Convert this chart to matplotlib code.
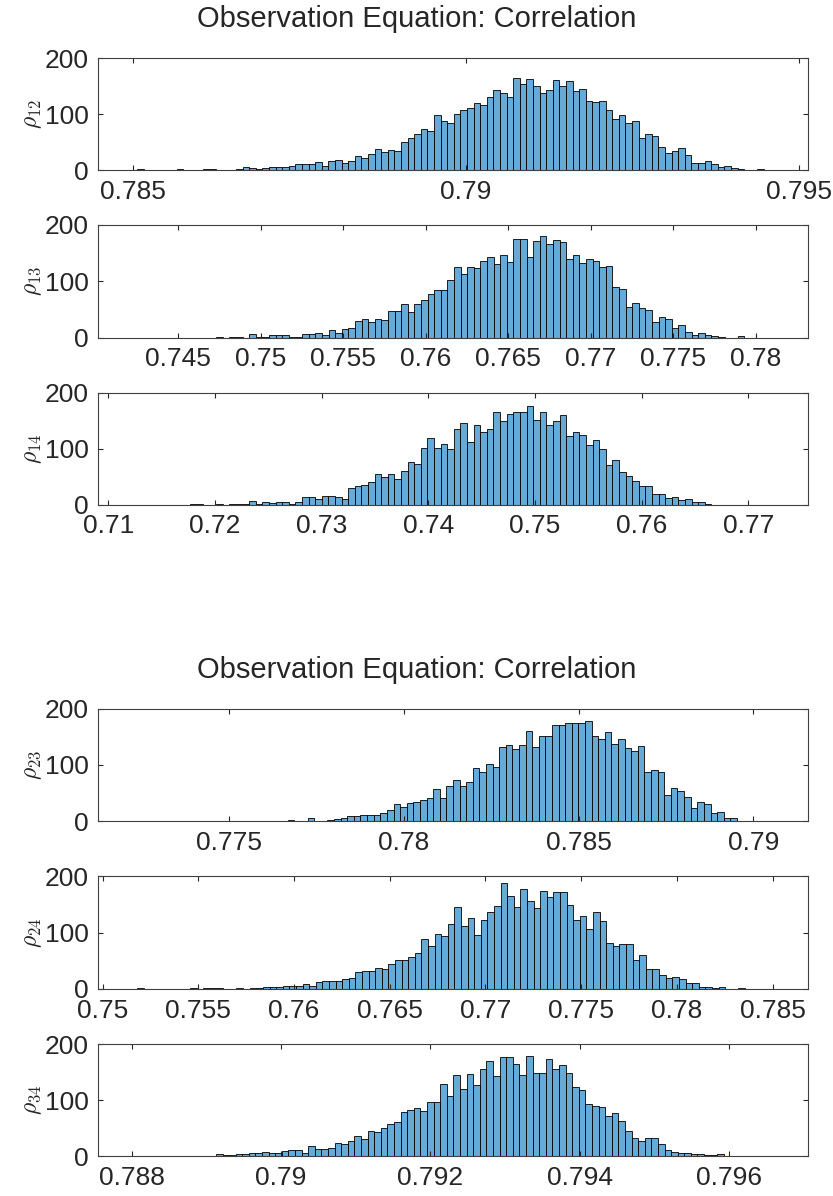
import numpy as np
import matplotlib
matplotlib.use("Agg")
import matplotlib.pyplot as plt

# bin counts (one value per bar, left to right)
rho12 = [1, 0, 0, 0, 0, 0, 1, 0, 0, 0, 1, 1, 0, 0, 0,
         1, 5, 3, 1, 3, 5, 5, 6, 8, 11, 11, 10, 15, 8, 16, 18, 13, 17, 25, 21, 29, 37, 32, 35, 34,
         50, 58, 64, 73, 70, 98, 88,
         85, 100, 108, 111, 120, 116, 131, 143, 137, 130, 165, 154, 163, 150, 138, 143, 161, 150,
         159, 141, 145, 123, 122, 123, 107, 92, 98, 84, 88, 58, 64, 61, 41, 31, 34, 40, 26, 12, 13,
         16, 10, 5, 7, 4, 1, 0, 0, 2]
rho13 = [1, 0, 2, 1, 0, 6, 1, 1, 4, 4, 4, 2, 1, 6, 6, 9, 4, 13, 9, 15, 18, 29, 33, 28, 33, 31,
         47, 47, 60, 46, 60, 67, 77, 84, 84,
         102, 125, 113, 125, 123, 137, 143, 130, 146, 134, 176, 175, 144, 171, 180, 167, 173, 170,
         140, 146, 133, 140, 137, 125, 128, 90, 86, 54, 62, 52, 49, 27, 36, 33, 18, 23, 11, 5, 9,
         5, 3, 1, 0, 0, 3]
rho14 = [1, 1, 0, 0, 1, 0, 1, 1, 1, 6, 2, 4, 3, 4, 4, 1, 4, 14, 14, 10, 15, 16, 14, 11, 29, 34,
         36, 41, 54, 49, 55, 46, 61, 76, 72, 102, 120, 102, 108,
         100, 135, 145, 112, 142, 130, 135, 165, 149, 162, 165, 166, 177, 152, 165, 142, 149, 161,
         122, 129, 124, 106, 115, 99, 71, 79, 58, 52, 42, 34, 34, 20, 20, 12, 14, 8, 11, 4, 5, 1]
rho23 = [1, 0, 0, 0, 0, 0, 0, 0, 1, 3, 0, 1, 6, 1, 0, 2, 4, 6, 9, 9, 11, 12, 12, 15, 20, 30, 25,
         32, 34, 38, 41, 58, 41,
         63, 73, 63, 69, 94, 88, 102, 96, 132, 135, 128, 135, 160, 132, 151, 151, 171, 171, 175,
         175, 175, 179, 151, 147, 158, 138, 147, 130, 124, 133, 87, 92, 87, 47, 59, 53, 43, 23,
         35, 30, 15, 17, 6, 6, 1, 1, 0, 1, 0, 0, 0, 1]
rho24 = [1, 0, 0, 0, 0, 0, 0, 0, 1, 0, 1, 1, 1, 0, 0, 1, 0, 1, 1, 4, 4, 3, 5, 6, 6, 8, 6, 12, 14,
         14, 15, 18, 20, 30, 32, 32, 37, 35, 45, 51, 51, 56, 64, 88, 76, 97, 94,
         115, 146, 112, 125, 95, 123, 137, 147, 188, 165, 146, 177, 156, 144, 174, 163, 172, 172,
         149, 122, 129, 107, 136, 121, 82, 76, 80, 79, 51, 60, 36, 36, 24, 19, 21, 18, 10, 10, 4,
         4, 2, 3, 0, 0, 2]
rho34 = [4, 2, 2, 4, 3, 5, 5, 8, 5, 5, 9, 10, 10, 5, 17, 12, 12, 15, 23, 22, 27, 35, 30, 45, 42,
         50, 58, 60, 78, 83, 85, 80, 96, 96, 128,
         108, 145, 120, 146, 126, 155, 169, 143, 176, 176, 164, 145, 178, 149, 149, 173, 155, 162,
         148, 124, 117, 92, 89, 87, 71, 77, 62, 45, 33, 27, 32, 32, 21, 11, 8, 6, 5, 4, 4, 2, 1, 3]

# left edge of first bin and bin width for each histogram
first_edges = [0.785066, 0.747301, 0.717639, 0.774973, 0.751815, 0.789126]
bin_widths = [0.0000990, 0.0004, 0.000619, 0.000189, 0.000345, 0.0000884]

series = [rho12, rho13, rho14, rho23, rho24, rho34]
labels = [r"$\rho_{12}$", r"$\rho_{13}$", r"$\rho_{14}$",
          r"$\rho_{23}$", r"$\rho_{24}$", r"$\rho_{34}$"]

xticks = [[0.785, 0.79, 0.795],
          [0.745, 0.75, 0.755, 0.76, 0.765, 0.77, 0.775, 0.78],
          [0.71, 0.72, 0.73, 0.74, 0.75, 0.76, 0.77],
          [0.775, 0.78, 0.785, 0.79],
          [0.75, 0.755, 0.76, 0.765, 0.77, 0.775, 0.78, 0.785],
          [0.788, 0.79, 0.792, 0.794, 0.796]]
xlims = [(0.784484, 0.79513), (0.74015, 0.78316), (0.70906, 0.77560),
         (0.77125, 0.79156), (0.74977, 0.78685), (0.78755, 0.79706)]
yticks = [0, 100, 200]

title = "Observation Equation: Correlation"

plt.rcParams['font.family'] = ['Liberation Sans', 'DejaVu Sans']
plt.rcParams['mathtext.fontset'] = 'cm'

W, H = 833, 1196
fig = plt.figure(figsize=(W / 100, H / 100), dpi=100)

# axes boxes in pixels: (top, bottom)
boxes = [(58.3, 170.0), (225.0, 337.7), (392.7, 504.7),
         (708.7, 821.3), (876.0, 989.0), (1044.0, 1156.0)]
left_px, right_px = 98.3, 808.0

face = (0.4, 0.668, 0.845)
txt = "#262626"

for i, counts in enumerate(series):
    top, bot = boxes[i]
    ax = fig.add_axes([left_px / W, 1 - bot / H, (right_px - left_px) / W, (bot - top) / H])
    edges = first_edges[i] + np.arange(len(counts)) * bin_widths[i]
    ax.bar(edges, counts, width=bin_widths[i], align='edge',
           color=face, edgecolor='black', linewidth=0.6)
    ax.set_xlim(*xlims[i])
    ax.set_ylim(0, 200)
    ax.set_xticks(xticks[i])
    ax.set_xticklabels([f"{t:g}" for t in xticks[i]])
    ax.set_yticks(yticks)
    ax.tick_params(direction='in', top=True, right=True, length=3.6, width=0.8,
                   labelsize=19, colors=txt)
    ax.tick_params(axis='x', pad=7)
    ax.tick_params(axis='y', pad=7)
    for s in ax.spines.values():
        s.set_color('#404040')
        s.set_linewidth(0.8)
    ax.set_ylabel(labels[i], fontsize=17, color=txt, va='center')
    ax.yaxis.set_label_coords(-0.092, 0.5)

fig.text(0.5, 1 - 19 / H, title, ha='center', va='center', fontsize=21, color=txt)
fig.text(0.5, 1 - 670 / H, title, ha='center', va='center', fontsize=21, color=txt)

fig.savefig("out.png", dpi=100)
